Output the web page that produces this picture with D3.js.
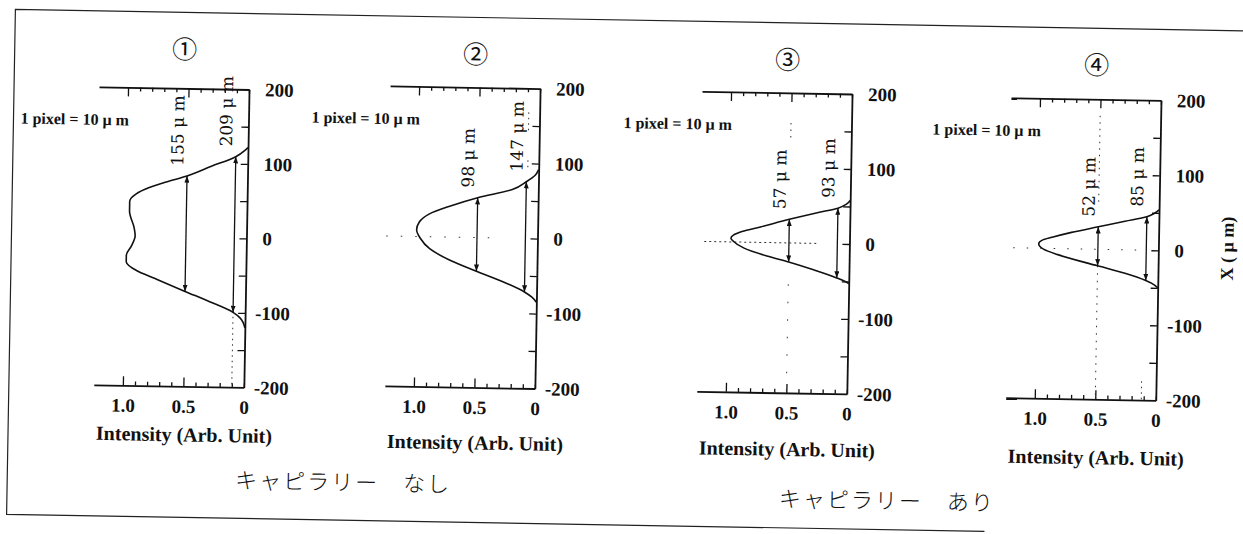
<!DOCTYPE html>
<html>
<head>
<meta charset="utf-8">
<script src="https://cdn.jsdelivr.net/npm/d3@7/dist/d3.min.js"></script>
<style>
  html, body { margin: 0; padding: 0; background: #fff; }
  svg { display: block; }
</style>
</head>
<body>
<svg id="chart" width="1243" height="534"></svg>
<script>
// ---- data -------------------------------------------------------------
const panelNames = ["①", "②", "③", "④"];
const groupLabels = ["キャピラリー　なし", "キャピラリー　あり"];
const scaleNote = "1 pixel = 10 μ m";
const intensityTitle = "Intensity (Arb. Unit)";
const positionTitle = "X ( μ m)";

const intensityTicks = [1.0, 0.5, 0];
const intensityTickLabels = ["1.0", "0.5", "0"];
const intensityMinorTicks = [0.1, 0.2, 0.3, 0.4, 0.6, 0.7, 0.8, 0.9];
const positionTicks = [200, 100, 0, -100, -200];
const positionTickLabels = ["200", "100", "0", "-100", "-200"];
const positionMinorTicks = [150, 50, -50, -150];

// profiles: [intensity, X (µm)]
const profile1 = [[0, 122], [0.02, 119], [0.1, 109.5], [0.3, 96], [0.5, 82.5], [0.67, 74], [0.81, 66],
  [0.92, 57], [0.97, 47], [0.97, 34], [0.93, 12], [0.92, 1], [0.95, -13], [0.99, -25], [0.99, -34],
  [0.9, -46], [0.75, -56], [0.5, -72.5], [0.29, -86], [0.1, -99.5], [0.04, -107], [0, -120]];
const profile2 = [[0, 92], [0.03, 84], [0.1, 75.5], [0.21, 65], [0.5, 53], [0.73, 41], [0.9, 30],
  [0.98, 19], [1.0, 9], [0.97, -2], [0.89, -16], [0.72, -31], [0.5, -45], [0.3, -57], [0.1, -71.5],
  [0.04, -78], [0, -85]];
const profile3 = [[0, 58], [0.03, 53], [0.1, 47.5], [0.27, 41], [0.5, 31.5], [0.73, 21], [0.89, 14],
  [0.96, 9], [0.98, 5], [0.96, 1], [0.87, -8], [0.68, -18], [0.5, -25.5], [0.3, -35], [0.1, -45.5],
  [0.03, -50], [0, -53]];
const profile4 = [[0, 54], [0.04, 49], [0.1, 44.5], [0.28, 38], [0.5, 30], [0.72, 22], [0.88, 15],
  [0.96, 11], [0.99, 6], [0.95, -1], [0.83, -8], [0.5, -22], [0.28, -31], [0.1, -40.5], [0.03, -46],
  [0, -50]];

// measured widths: [intensity level, centre X, width µm]
const widths1 = [[0.5, 5, 155], [0.1, 5, 209]];
const widths2 = [[0.5, 4, 98], [0.1, 2, 147]];
const widths3 = [[0.5, 3, 57], [0.1, 1, 93]];
const widths4 = [[0.5, 4, 52], [0.1, 2, 85]];

// dotted reference traces: [direction, at, from, to]
const guides1 = [["v", 0.1, -98, -200]];
const guides2 = [["v", 0.09, 168, 142], ["v", 0.09, 104, 90], ["h", 0, 1.25, 0.33]];
const guides3 = [["h", 0, 1.2, 0.26], ["v", 0.5, 160, 140], ["v", 0.5, -55, -200]];
const guides4 = [["v", 0.5, 178, 58], ["v", 0.5, -22, -200], ["v", 0.12, -175, -200], ["h", 0, 1.2, 0.15]];

// ---- layout & style ---------------------------------------------------
const frames = [
  { right: 246, top: 96, bottom: 394, titleY: 449 },
  { right: 537, top: 90, bottom: 390, titleY: 452 },
  { right: 849, top: 90, bottom: 390, titleY: 453 },
  { right: 1158, top: 91, bottom: 391, titleY: 456 }
];
const guideDashes = [
  ["1.5,4"],
  ["1.5,4", "1.5,4", "1.5,13"],
  ["2,3", "1.5,5", "1.5,16"],
  ["1.5,5", "1.5,6", "1.5,4", "1.5,12"]
];
const pxPerUnit = 121;
const span = 1.24;
const serif = "'Liberation Serif', 'Times New Roman', serif";
const ink = "#111";

const panels = panelNames.map((name, i) => ({
  name,
  profile: [profile1, profile2, profile3, profile4][i],
  widths: [widths1, widths2, widths3, widths4][i],
  guides: [guides1, guides2, guides3, guides4][i],
  dashes: guideDashes[i],
  frame: frames[i]
}));

const svg = d3.select("#chart");
svg.append("rect").attr("width", 1243).attr("height", 534).attr("fill", "#fff");

svg.append("defs").append("marker")
  .attr("id", "head")
  .attr("viewBox", "0 0 8 6")
  .attr("refX", 8).attr("refY", 3)
  .attr("markerWidth", 7).attr("markerHeight", 5)
  .attr("markerUnits", "userSpaceOnUse")
  .attr("orient", "auto-start-reverse")
  .append("path").attr("d", "M0,0L8,3L0,6Z").attr("fill", ink);

// the whole sheet sits a little askew
const sheet = svg.append("g").attr("transform", "rotate(1,621,267)");

// outer frame
sheet.append("path")
  .attr("d", "M1270,20H11V525H989")
  .attr("fill", "none").attr("stroke", "#222").attr("stroke-width", 1.2);

const majorSet = new Set(intensityTicks);

panels.forEach(p => {
  const F = p.frame;
  const g = sheet.append("g");
  const x = d3.scaleLinear().domain([0, span]).range([F.right, F.right - span * pxPerUnit]);
  const y = d3.scaleLinear().domain([-200, 200]).range([F.bottom, F.top]);
  const allX = intensityTicks.concat(intensityMinorTicks);

  // top axis, ticks pointing down
  const top = g.append("g").attr("transform", `translate(0,${F.top})`)
    .call(d3.axisTop(x).tickValues(allX).tickSizeInner(-4).tickSizeOuter(0).tickFormat(""));
  top.selectAll(".tick line").attr("y2", d => majorSet.has(d) && d > 0 ? 9 : 4);

  // bottom axis, ticks pointing up
  const bottom = g.append("g").attr("transform", `translate(0,${F.bottom})`)
    .call(d3.axisBottom(x).tickValues(allX).tickSizeInner(-4).tickSizeOuter(0).tickPadding(13)
      .tickFormat(d => {
        const k = intensityTicks.indexOf(d);
        return k >= 0 ? intensityTickLabels[k] : "";
      }));
  bottom.selectAll(".tick line").attr("y2", d => majorSet.has(d) && d > 0 ? -9 : -4);

  // right axis, ticks pointing left
  const right = g.append("g").attr("transform", `translate(${F.right},0)`)
    .call(d3.axisRight(y).tickValues(positionTicks.concat(positionMinorTicks))
      .tickSizeInner(-7).tickSizeOuter(0).tickPadding(16)
      .tickFormat(d => {
        const k = positionTicks.indexOf(d);
        return k >= 0 ? positionTickLabels[k] : "";
      }));
  right.selectAll(".tick line").attr("x2", d => (d === 200 || d === -200) ? 0 : -7);
  right.selectAll(".tick text").attr("x", d => d < 0 ? 10 : 16);

  [top, bottom, right].forEach(a => {
    a.attr("font-family", serif).attr("font-size", 19).attr("font-weight", "bold");
    a.select(".domain").attr("stroke", ink).attr("stroke-width", 1.8);
    a.selectAll(".tick line").attr("stroke", ink).attr("stroke-width", 1.3);
    a.selectAll(".tick text").attr("fill", ink);
  });

  // dotted traces
  g.selectAll(".guide").data(p.guides).join("line")
    .attr("x1", d => d[0] === "v" ? x(d[1]) : x(d[2]))
    .attr("x2", d => d[0] === "v" ? x(d[1]) : x(d[3]))
    .attr("y1", d => d[0] === "v" ? y(d[2]) : y(d[1]))
    .attr("y2", d => d[0] === "v" ? y(d[3]) : y(d[1]))
    .attr("stroke", "#333").attr("stroke-width", 1)
    .attr("stroke-dasharray", (d, i) => p.dashes[i]);

  // intensity profile
  g.append("path")
    .datum(p.profile)
    .attr("d", d3.line().x(d => x(d[0])).y(d => y(d[1])).curve(d3.curveMonotoneY))
    .attr("fill", "none").attr("stroke", ink).attr("stroke-width", 1.6);

  // width arrows and their labels
  p.widths.forEach(([level, centre, w]) => {
    const xa = x(level);
    const y1 = y(centre + w / 2), y2 = y(centre - w / 2);
    g.append("line")
      .attr("x1", xa).attr("x2", xa).attr("y1", y1).attr("y2", y2)
      .attr("stroke", ink).attr("stroke-width", 1.3)
      .attr("marker-start", "url(#head)").attr("marker-end", "url(#head)");
    g.append("text")
      .attr("transform", `translate(${xa - 4},${y1 - 10}) rotate(-90)`)
      .attr("font-family", "'DejaVu Serif', serif").attr("font-size", 17)
      .attr("fill", ink)
      .text(`${w} μ m`);
  });

  // panel number
  g.append("text")
    .attr("x", F.right - 65).attr("y", 66)
    .attr("text-anchor", "middle")
    .attr("font-family", "'Noto Sans CJK JP', sans-serif").attr("font-size", 25)
    .attr("fill", ink)
    .text(p.name);

  // pixel scale note
  g.append("text")
    .attr("x", F.right - 228).attr("y", F.top + 38)
    .attr("font-family", serif).attr("font-size", 16).attr("font-weight", "bold")
    .attr("fill", ink)
    .text(scaleNote);

  // intensity axis title
  g.append("text")
    .attr("x", F.right - 59).attr("y", F.titleY)
    .attr("text-anchor", "middle")
    .attr("font-family", serif).attr("font-size", 20).attr("font-weight", "bold")
    .attr("fill", ink)
    .text(intensityTitle);
});

// position axis title on the last panel
sheet.append("text")
  .attr("transform", "translate(1233,238) rotate(-90)")
  .attr("text-anchor", "middle")
  .attr("font-family", serif).attr("font-size", 18).attr("font-weight", "bold")
  .attr("fill", ink)
  .text(positionTitle);

// group captions
sheet.selectAll(".group").data(groupLabels).join("text")
  .attr("x", (d, i) => [347, 891][i]).attr("y", (d, i) => [495, 504][i])
  .attr("text-anchor", "middle")
  .attr("font-family", "'Noto Sans CJK JP', sans-serif").attr("font-size", 22)
  .attr("font-weight", 300).attr("letter-spacing", 2)
  .attr("fill", ink)
  .text(d => d);
</script>
</body>
</html>
